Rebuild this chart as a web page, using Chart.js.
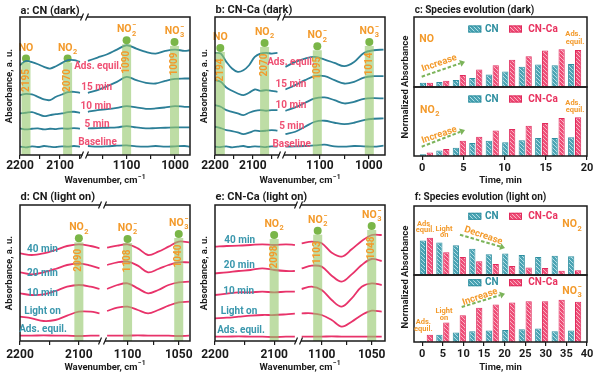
<!DOCTYPE html>
<html>
<head>
<meta charset="utf-8">
<title>Species evolution, in situ DRIFTS</title>
<script src="https://cdn.jsdelivr.net/npm/chart.js@4.4.1/dist/chart.umd.min.js"></script>
<style>
  html, body { margin: 0; padding: 0; background: #fff; }
  #fig { position: relative; width: 600px; height: 377px; overflow: hidden; background: #fff; }
  #fig canvas { position: absolute; }
  .ylab { position: absolute; width: 140px; text-align: center; font: bold 9.5px Roboto, sans-serif;
          color: #1a1a1a; transform: rotate(-90deg); white-space: nowrap; line-height: 12px; }
</style>
</head>
<body>
<div id="fig">
  <canvas id="pa" width="195" height="190" style="left:0;top:0"></canvas>
  <canvas id="pb" width="200" height="190" style="left:195px;top:0"></canvas>
  <canvas id="pc1" width="205" height="88" style="left:395px;top:0"></canvas>
  <canvas id="pc2" width="205" height="104" style="left:395px;top:86px"></canvas>
  <canvas id="pd" width="195" height="192" style="left:0;top:185px"></canvas>
  <canvas id="pe" width="200" height="192" style="left:195px;top:185px"></canvas>
  <canvas id="pf1" width="205" height="91" style="left:395px;top:185px"></canvas>
  <canvas id="pf2" width="205" height="103" style="left:395px;top:274px"></canvas>
  <div class="ylab" style="left:335px;top:81px">Normalized Absorbance</div>
  <div class="ylab" style="left:335px;top:271px">Normalized Absorbance</div>
</div>
<script>
// ---------- data ----------
// a: CN (dark)
const aWnL = [2200, 2185, 2170, 2155, 2140, 2125, 2110, 2095, 2080, 2065, 2050];
const aWnR = [1180, 1160, 1140, 1120, 1100, 1080, 1060, 1040, 1020, 1000, 980, 970];
const aNames = ['Baseline', '5 min', '10 min', '15 min', 'Ads. equil.'];
const aLeft = [
  [2.5, 2.3, 2.6, 2.4, 2.7, 2.5, 2.4, 2.6, 2.5, 2.7, 2.5],
  [8.0, 7.7, 7.9, 8.0, 7.7, 7.9, 7.8, 8.0, 7.9, 8.1, 7.9],
  [12.5, 12.7, 12.9, 12.3, 11.7, 12.0, 12.3, 12.5, 12.9, 13.0, 12.7],
  [18.0, 18.4, 18.2, 17.5, 16.7, 16.5, 17.5, 18.2, 18.9, 19.0, 18.7],
  [27.0, 28.3, 27.9, 27.3, 26.5, 26.0, 26.7, 27.7, 28.5, 28.5, 28.0]
];
const aRight = [
  [2.7, 2.5, 2.6, 2.8, 2.9, 2.6, 2.5, 2.7, 2.5, 2.6, 2.7, 2.5],
  [8.0, 8.1, 8.2, 8.3, 8.7, 8.3, 8.0, 8.1, 8.2, 8.3, 8.3, 8.3],
  [13.0, 13.5, 13.8, 14.2, 14.7, 14.3, 13.9, 14.0, 14.3, 14.7, 14.5, 14.5],
  [18.7, 19.5, 20.7, 22.0, 23.5, 22.5, 21.7, 21.5, 22.3, 22.9, 23.0, 23.0],
  [28.3, 29.3, 30.3, 31.7, 33.0, 32.0, 31.0, 30.5, 31.3, 31.7, 31.3, 31.5]
];
const aPeakPos = [2185, 2081, 1100, 1001];
const aPeakY = [29, 29, 34.5, 34];
const aPeakLab = ['2195', '2070', '1090', '1009'];
const aPeakName = ['NO', 'NO2', 'NO2-', 'NO3-'];

// b: CN-Ca (dark)
const bWnL = [2200, 2185, 2170, 2155, 2140, 2125, 2110, 2095, 2080, 2065, 2050, 2035];
const bWnR = [1170, 1150, 1130, 1110, 1090, 1070, 1050, 1030, 1010, 990, 970];
const bNames = ['Baseline', '5 min', '10 min', '15 min', 'Ads. equil.'];
const bLeft = [
  [2.5, 2.4, 2.6, 2.3, 2.5, 2.7, 2.4, 2.6, 2.5, 2.4, 2.6, 2.5],
  [8.5, 8.1, 7.5, 7.2, 6.8, 6.3, 6.7, 7.3, 7.2, 7.3, 7.5, 7.3],
  [15.0, 14.5, 13.5, 13.0, 12.5, 12.0, 12.7, 13.3, 13.5, 13.3, 13.5, 13.5],
  [22.5, 22.0, 20.3, 19.3, 18.5, 18.0, 18.7, 19.7, 19.3, 19.5, 19.3, 19.0],
  [30.7, 30.5, 28.0, 26.0, 25.0, 25.5, 27.0, 29.5, 30.5, 30.7, 30.5, 30.7]
];
const bRight = [
  [2.5, 2.6, 2.7, 2.9, 3.1, 2.6, 2.5, 2.7, 2.6, 2.5, 2.8],
  [6.3, 7.0, 8.5, 10.0, 10.3, 9.7, 9.3, 9.7, 10.5, 10.9, 11.0],
  [13.3, 14.3, 15.7, 17.0, 17.3, 16.5, 15.5, 16.0, 16.9, 17.1, 17.0],
  [19.7, 21.0, 22.5, 23.7, 23.7, 22.5, 21.5, 22.0, 23.3, 23.7, 23.7],
  [26.5, 28.0, 29.0, 29.5, 28.7, 27.7, 26.7, 28.0, 30.7, 31.5, 31.7]
];
const bPeakPos = [2186, 2069, 1105, 999];
const bPeakY = [32.2, 33.7, 32.7, 34];
const bPeakLab = ['2194', '2070', '1095', '1014'];
const bPeakName = ['NO', 'NO2', 'NO2-', 'NO3-'];

// d: CN (light on)
const dWnL = [2200, 2180, 2160, 2140, 2120, 2100, 2080, 2065];
const dWnR = [1120, 1110, 1100, 1090, 1080, 1070, 1060, 1050, 1040];
const dNames = ['Ads. equil.', 'Light on', '10 min', '20 min', '40 min'];
const dLeft = [
  [1.6, 1.6, 1.7, 1.6, 1.6, 1.5, 1.6, 1.6],
  [7.3, 6.8, 6.0, 6.3, 7.6, 8.8, 8.8, 8.3],
  [14.3, 13.8, 14.0, 15.0, 16.3, 16.8, 16.3, 15.6],
  [20.6, 20.0, 20.6, 21.6, 22.8, 23.3, 22.6, 21.8],
  [26.3, 25.8, 26.3, 27.3, 28.5, 29.0, 28.5, 27.8]
];
const dRight = [
  [1.6, 1.6, 1.6, 1.7, 1.6, 1.6, 1.6, 1.5, 1.6],
  [9.0, 10.0, 10.3, 9.3, 8.3, 9.3, 10.6, 11.6, 11.8],
  [15.6, 16.8, 17.3, 15.8, 14.3, 15.3, 16.8, 17.6, 17.8],
  [22.8, 23.6, 23.8, 22.6, 20.6, 21.6, 22.8, 23.6, 23.6],
  [28.0, 28.6, 29.0, 27.8, 25.8, 26.8, 28.3, 29.8, 29.6]
];
const dPeakPos = [2100, 1100, 1050];
const dPeakY = [30.8, 30.6, 32.1];
const dPeakLab = ['2090', '1108', '1040'];
const dPeakName = ['NO2', 'NO2-', 'NO3-'];

// e: CN-Ca (light on)
const eWnL = [2200, 2180, 2160, 2140, 2120, 2100, 2080, 2065];
const eWnR = [1120, 1110, 1100, 1090, 1080, 1070, 1060, 1050, 1040];
const eNames = ['Ads. equil.', 'Light on', '10 min', '20 min', '40 min'];
const eLeft = [
  [1.3, 1.3, 1.4, 1.3, 1.3, 1.2, 1.3, 1.3],
  [6.8, 7.0, 7.3, 7.6, 7.8, 7.8, 8.0, 8.2],
  [13.8, 14.2, 14.6, 14.6, 14.8, 14.6, 14.8, 14.8],
  [20.3, 20.6, 21.0, 21.3, 21.8, 21.3, 21.0, 21.0],
  [28.3, 28.5, 28.6, 28.8, 29.0, 28.8, 29.0, 28.8]
];
const eRight = [
  [1.3, 1.3, 1.3, 1.4, 1.3, 1.3, 1.3, 1.3, 1.3],
  [8.3, 8.3, 7.8, 6.3, 4.3, 5.8, 7.8, 9.1, 8.8],
  [15.6, 16.3, 15.3, 12.3, 10.3, 12.8, 16.3, 17.3, 16.8],
  [21.8, 22.6, 22.3, 19.6, 17.8, 20.0, 22.8, 24.6, 24.0],
  [29.3, 29.8, 29.3, 26.5, 25.3, 27.5, 30.0, 31.8, 31.8]
];
const ePeakPos = [2100, 1104, 1050];
const ePeakY = [31.8, 33.1, 34.5];
const ePeakLab = ['2098', '1103', '1048'];
const ePeakName = ['NO2', 'NO2-', 'NO3-'];

// c: species evolution (dark), normalized absorbance (%)
const cTime = [0.5, 2.5, 4.5, 6.5, 8.5, 10.5, 12.5, 14.5, 16.5, 18.5];
const cNO_CN = [6, 7, 10, 13, 18, 22, 29, 32, 31, 33];
const cNO_CNCa = [6, 9, 17, 25, 31, 39, 44, 52, 54, 53];
const cNO2_CN = [2.5, 8, 12, 19, 22, 20, 23, 26, 26, 27];
const cNO2_CNCa = [5, 10, 22, 28, 37, 39, 44, 48, 55, 56];

// f: species evolution (light on)
const fTime = [1, 5, 9, 13, 17, 21, 25, 29, 33, 37];
const fNO2_CN = [50, 47, 43, 38, 30, 31, 29, 26, 28, 27];
const fNO2_CNCa = [54, 33, 26, 20, 16, 13, 11, 10, 6, 7];
const fNO3_CN = [1.5, 11, 14, 16, 17, 18, 19, 20, 16, 17];
const fNO3_CNCa = [11, 29, 40, 51, 56, 59, 61, 61, 63, 60];

// ---------- styles ----------
const FONT = 'Roboto, "Liberation Sans", Arial, sans-serif';
Chart.defaults.font.family = FONT;
Chart.defaults.color = '#1a1a1a';
const INK = '#1a1a1a';
const TEAL = '#2c7f97', PINK = '#e8336a', ORANGE = '#f39a2b', GREEN = '#7ab648';
const LAB_PINK = '#ef5073', LAB_TEAL = '#3a97ad';
const CN_EDGE = '#2f8fa0', CA_EDGE = '#e02a5c';

function hatch(base, line) {
  const t = document.createElement('canvas');
  t.width = 4; t.height = 4;
  const g = t.getContext('2d');
  g.fillStyle = base; g.fillRect(0, 0, 4, 4);
  g.strokeStyle = line; g.lineWidth = 1;
  g.beginPath();
  g.moveTo(0, 0); g.lineTo(4, 4);
  g.moveTo(-1, 3); g.lineTo(1, 5);
  g.moveTo(3, -1); g.lineTo(5, 1);
  g.stroke();
  return g.createPattern(t, 'repeat');
}
const patCN = hatch('#4aa3b3', '#b2dfe6');
const patCA = hatch('#ee4d77', '#fab3c4');

// ---------- drawing helpers ----------
function rich(ctx, b, sub, sup, x, y, size, color, align) {
  ctx.save();
  ctx.fillStyle = color; ctx.textBaseline = 'middle'; ctx.textAlign = 'left';
  ctx.font = 'bold ' + size + 'px ' + FONT;
  const wb = ctx.measureText(b).width;
  const ss = Math.round(size * 7) / 10;
  ctx.font = 'bold ' + ss + 'px ' + FONT;
  const ws = Math.max(sub ? ctx.measureText(sub).width : 0, sup ? ctx.measureText(sup).width : 0);
  const w = wb + (ws ? ws + 0.5 : 0);
  const x0 = align === 'center' ? x - w / 2 : align === 'right' ? x - w : x;
  ctx.font = 'bold ' + size + 'px ' + FONT;
  ctx.fillText(b, x0, y);
  ctx.font = 'bold ' + ss + 'px ' + FONT;
  if (sub) ctx.fillText(sub, x0 + wb + 0.5, y + size * 0.38);
  if (sup) ctx.fillText(sup, x0 + wb + 0.5, y - size * 0.42);
  ctx.restore();
}
function chem(ctx, name, x, y, size, color, align) {
  const m = /^([A-Za-z]+)(\d*)(-?)$/.exec(name);
  rich(ctx, m[1], m[2], m[3] ? '\u2212' : '', x, y, size, color, align);
}
function drawText(ctx, t) {
  ctx.save();
  ctx.translate(t.x, t.y);
  if (t.rot) ctx.rotate(t.rot * Math.PI / 180);
  if (t.chem) chem(ctx, t.t, 0, 0, t.s, t.c, t.al || 'center');
  else rich(ctx, t.t, '', '', 0, 0, t.s, t.c, t.al || 'center');
  ctx.restore();
}
function arrow(ctx, x1, y1, x2, y2) {
  const ang = Math.atan2(y2 - y1, x2 - x1);
  const hx = x2 - 5 * Math.cos(ang), hy = y2 - 5 * Math.sin(ang);
  ctx.save();
  ctx.strokeStyle = '#7cb45a'; ctx.fillStyle = '#7cb45a'; ctx.lineWidth = 2;
  ctx.setLineDash([3.5, 2]);
  ctx.beginPath(); ctx.moveTo(x1, y1); ctx.lineTo(hx, hy); ctx.stroke();
  ctx.setLineDash([]);
  ctx.beginPath();
  ctx.moveTo(x2, y2);
  ctx.lineTo(hx + 3.5 * Math.sin(ang), hy - 3.5 * Math.cos(ang));
  ctx.lineTo(hx - 3.5 * Math.sin(ang), hy + 3.5 * Math.cos(ang));
  ctx.closePath(); ctx.fill();
  ctx.restore();
}
function breakMark(ctx, x, y) {
  ctx.save();
  ctx.fillStyle = '#fff'; ctx.fillRect(x - 2.5, y - 1.5, 4.5, 3);
  ctx.strokeStyle = INK; ctx.lineWidth = 1.2;
  ctx.beginPath();
  ctx.moveTo(x - 4.5, y + 3.5); ctx.lineTo(x - 1.5, y - 3.5);
  ctx.moveTo(x + 0.5, y + 3.5); ctx.lineTo(x + 3.5, y - 3.5);
  ctx.stroke();
  ctx.restore();
}

// per-canvas decorations (kept outside chart options)
const DECO = {};

const deco = {
  id: 'deco',
  afterDatasetsDraw(chart) {
    const d = DECO[chart.canvas.id];
    if (!d || !d.peaks) return;
    const ctx = chart.ctx, a = chart.chartArea, ys = chart.scales.y, p = d.peaks;
    p.pos.forEach((wn, i) => {
      const xs = chart.scales[wn > 1500 ? 'xL' : 'xR'];
      const px = xs.getPixelForValue(wn), py = ys.getPixelForValue(p.y[i]);
      ctx.save();
      ctx.fillStyle = 'rgba(150,200,110,0.62)';
      ctx.fillRect(px - 4.5, py + 4, 9, a.bottom - py - 4);
      ctx.restore();
      drawText(ctx, {t: p.lab[i], x: px, y: py + 22, s: 10, c: ORANGE, rot: -90});
      chem(ctx, p.name[i], px, py - 10.5, 10.5, ORANGE, 'center');
    });
  },
  afterDraw(chart) {
    const d = DECO[chart.canvas.id];
    if (!d) return;
    const ctx = chart.ctx, a = chart.chartArea;
    ctx.save();
    ctx.strokeStyle = INK; ctx.lineWidth = 1.5;
    ctx.strokeRect(a.left, a.top, a.right - a.left, a.bottom - a.top);
    ctx.restore();
    if (d.brk) {
      const bx = chart.scales.xL.right;
      breakMark(ctx, bx, a.top);
      breakMark(ctx, bx, a.bottom);
    }
    if (d.xtitle) rich(ctx, 'Wavenumber, cm', '', '\u22121', (a.left + a.right) / 2, a.bottom + d.xtitle, 9.5, INK, 'center');
    (d.arrows || []).forEach(r => arrow(ctx, r[0], r[1], r[2], r[3]));
    (d.texts || []).forEach(t => drawText(ctx, t));
    if (d.legend) {
      d.legend.items.forEach(it => {
        ctx.save();
        ctx.fillStyle = it.pat; ctx.fillRect(it.x, d.legend.y - 3.5, 13, 7);
        ctx.strokeStyle = it.edge; ctx.lineWidth = 1; ctx.strokeRect(it.x + 0.5, d.legend.y - 3, 12, 6);
        ctx.restore();
        rich(ctx, it.label, '', '', it.tx, d.legend.y, 10, it.color, 'left');
      });
    }
  }
};
Chart.register(deco);

// ---------- spectra panels ----------
function curve(wn, ys, ax, color) {
  return {
    data: wn.map((w, i) => ({x: w, y: ys[i]})),
    xAxisID: ax, yAxisID: 'y',
    borderColor: color, borderWidth: 1.8, pointRadius: 0, tension: 0.35, fill: false
  };
}

function spectra(id, s) {
  const datasets = [];
  s.left.forEach(ys => datasets.push(curve(s.wnL, ys, 'xL', s.color)));
  s.right.forEach(ys => datasets.push(curve(s.wnR, ys, 'xR', s.color)));
  ['xL', 'xR'].forEach(ax => {
    const pts = [];
    s.peakPos.forEach((p, i) => { if ((p > 1500) === (ax === 'xL')) pts.push({x: p, y: s.peakY[i]}); });
    datasets.push({data: pts, xAxisID: ax, yAxisID: 'y', showLine: false, pointRadius: 4,
      pointBackgroundColor: GREEN, pointBorderColor: GREEN, pointBorderWidth: 0});
  });
  const xAxis = (r, w, step, lab) => ({
    type: 'linear', position: 'bottom', stack: 'wn', stackWeight: w, reverse: true,
    min: r[0], max: r[1],
    ticks: {stepSize: step, includeBounds: false, autoSkip: false, maxRotation: 0, padding: s.tickPad,
      font: {size: 12, weight: 'bold'}, color: INK,
      callback: v => (v % lab === 0 ? String(v) : '')},
    grid: {drawOnChartArea: false, tickLength: 4, color: INK, lineWidth: 1.2},
    border: {display: false},
    afterFit: sc => { sc.height = s.xh; sc.paddingLeft = 0; sc.paddingRight = 0; }
  });
  DECO[id] = {
    brk: true,
    xtitle: s.xtitle,
    peaks: {pos: s.peakPos, y: s.peakY, lab: s.peakLab, name: s.peakName},
    texts: [{t: s.title, x: 20.5, y: s.titleY, s: 11, c: INK, al: 'left'}]
      .concat(s.names.map((n, i) => ({t: n, x: s.labXY[i][0], y: s.labXY[i][1], s: 10, c: s.labColor})))
  };
  new Chart(document.getElementById(id), {
    type: 'line',
    data: {datasets},
    options: {
      responsive: false, animation: false, events: [],
      layout: {padding: {left: 0, right: s.padRight, top: s.padTop, bottom: 0}},
      plugins: {legend: {display: false}, tooltip: {enabled: false}},
      scales: {
        xL: xAxis(s.rangeL, s.wL, s.stepL, s.labL),
        xR: xAxis(s.rangeR, s.wR, s.stepR, s.labR),
        y: {
          min: 0, max: s.ymax,
          ticks: {display: false}, grid: {display: false}, border: {display: false},
          title: {display: true, text: 'Absorbance, a. u.', font: {size: 9.5, weight: 'bold'}, color: INK, padding: 4},
          afterFit: sc => { sc.width = 20; }
        }
      }
    }
  });
}

spectra('pa', {
  wnL: aWnL, wnR: aWnR, left: aLeft, right: aRight, names: aNames,
  peakPos: aPeakPos, peakY: aPeakY, peakLab: aPeakLab, peakName: aPeakName,
  color: TEAL, labColor: LAB_PINK, title: 'a: CN (dark)', titleY: 11.5,
  labXY: [[97.5, 142.7], [97, 124], [96, 106.7], [96.7, 87.3], [98, 66.7]],
  rangeL: [2037.5, 2200], rangeR: [969, 1186], wL: 65, wR: 105,
  stepL: 50, labL: 100, stepR: 50, labR: 100,
  ymax: 41.5, padTop: 17, padRight: 5, xh: 35, tickPad: 0, xtitle: 26
});
spectra('pb', {
  wnL: bWnL, wnR: bWnR, left: bLeft, right: bRight, names: bNames,
  peakPos: bPeakPos, peakY: bPeakY, peakLab: bPeakLab, peakName: bPeakName,
  color: TEAL, labColor: LAB_PINK, title: 'b: CN-Ca (dark)', titleY: 10.7,
  labXY: [[96.7, 144], [96.7, 126.7], [96, 105], [96, 84.3], [96, 62.7]],
  rangeL: [2023, 2200], rangeR: [967, 1177], wL: 67, wR: 103,
  stepL: 50, labL: 100, stepR: 50, labR: 100,
  ymax: 41.5, padTop: 17, padRight: 10, xh: 35, tickPad: 0, xtitle: 26
});
spectra('pd', {
  wnL: dWnL, wnR: dWnR, left: dLeft, right: dRight, names: dNames,
  peakPos: dPeakPos, peakY: dPeakY, peakLab: dPeakLab, peakName: dPeakName,
  color: PINK, labColor: LAB_TEAL, title: 'd: CN (light on)', titleY: 12.7,
  labXY: [[43, 144], [42.5, 126.7], [42.5, 108.3], [42.5, 88.3], [42.5, 64]],
  rangeL: [2059, 2200], rangeR: [1039, 1124], wL: 83, wR: 87,
  stepL: 50, labL: 100, stepR: 25, labR: 50,
  ymax: 40.8, padTop: 20, padRight: 5, xh: 36, tickPad: 3, xtitle: 26.7
});
spectra('pe', {
  wnL: eWnL, wnR: eWnR, left: eLeft, right: eRight, names: eNames,
  peakPos: ePeakPos, peakY: ePeakY, peakLab: ePeakLab, peakName: ePeakName,
  color: PINK, labColor: LAB_TEAL, title: 'e: CN-Ca (light on)', titleY: 12.7,
  labXY: [[46, 145.7], [44, 126.7], [43.7, 106], [44.3, 80], [44.7, 55]],
  rangeL: [2058, 2200], rangeR: [1036.7, 1122.7], wL: 84, wR: 86,
  stepL: 50, labL: 100, stepR: 25, labR: 50,
  ymax: 40.8, padTop: 20, padRight: 10, xh: 36, tickPad: 3, xtitle: 26.7
});

// ---------- bar panels ----------
function legendAt(y) {
  return {y, items: [
    {x: 73.3, tx: 90, label: 'CN', pat: patCN, edge: CN_EDGE, color: CN_EDGE},
    {x: 114, tx: 133.3, label: 'CN-Ca', pat: patCA, edge: CA_EDGE, color: '#e8325f'}
  ]};
}
function orange(t, x, y, s, extra) {
  return Object.assign({t, x, y, s, c: ORANGE}, extra || {});
}

function bars(id, times, cn, ca, xr, showX, pad, xh) {
  new Chart(document.getElementById(id), {
    type: 'bar',
    data: {datasets: [
      {label: 'CN', data: times.map((t, i) => ({x: t, y: cn[i]})), backgroundColor: patCN,
        borderColor: CN_EDGE, borderWidth: 1, categoryPercentage: 0.84, barPercentage: 0.9},
      {label: 'CN-Ca', data: times.map((t, i) => ({x: t, y: ca[i]})), backgroundColor: patCA,
        borderColor: CA_EDGE, borderWidth: 1, categoryPercentage: 0.84, barPercentage: 0.9}
    ]},
    options: {
      responsive: false, animation: false, events: [],
      layout: {padding: pad},
      plugins: {legend: {display: false}, tooltip: {enabled: false}},
      scales: {
        x: {
          type: 'linear', display: showX, min: xr[0], max: xr[1], offset: false,
          ticks: {stepSize: 5, includeBounds: false, autoSkip: false, maxRotation: 0, padding: 2,
            font: {size: 11, weight: 'bold'}, color: INK},
          grid: {drawOnChartArea: false, offset: false, tickLength: 4, color: INK, lineWidth: 1.2},
          border: {display: false},
          title: {display: true, text: 'Time, min', font: {size: 9.5, weight: 'bold'}, color: INK,
            padding: {top: 0, bottom: 4}},
          afterFit: sc => { sc.height = xh; sc.paddingLeft = 0; sc.paddingRight = 0; }
        },
        y: {display: false, min: 0, max: 100}
      }
    }
  });
}

DECO.pc1 = {
  legend: legendAt(29),
  arrows: [[26.7, 76.7, 70, 61.7]],
  texts: [
    {t: 'c: Species evolution (dark)', x: 19.7, y: 10, s: 10, c: INK, al: 'left'},
    orange('NO', 24.3, 39, 10.5, {chem: true, al: 'left'}),
    orange('Ads.', 178, 34.3, 7.5), orange('equil.', 180, 41.7, 7.5),
    orange('Increase', 44.3, 63.3, 9.5, {rot: -19})
  ]
};
DECO.pc2 = {
  legend: legendAt(13),
  arrows: [[26.7, 60.7, 70, 44]],
  texts: [
    orange('NO2', 25, 24, 10.5, {chem: true, al: 'left'}),
    orange('Ads.', 178, 17.3, 7.5), orange('equil.', 180, 24, 7.5),
    orange('Increase', 44.3, 49, 9.5, {rot: -19})
  ]
};
DECO.pf1 = {
  legend: legendAt(31.3),
  arrows: [[65, 49.7, 110, 63]],
  texts: [
    {t: 'f: Species evolution (light on)', x: 19.7, y: 12.7, s: 10, c: INK, al: 'left'},
    orange('NO2', 186.7, 39.7, 10.5, {chem: true, al: 'right'}),
    orange('Ads.', 29.7, 38.7, 7.5), orange('equil.', 30, 44.7, 7.5),
    orange('Light', 49, 44, 7.5), orange('on', 49.3, 50.3, 7.5),
    orange('Decrease', 88.3, 50.7, 9.5, {rot: 19})
  ]
};
DECO.pf2 = {
  legend: legendAt(8.7),
  arrows: [[66.7, 33, 110, 19.7]],
  texts: [
    orange('NO3-', 186.7, 17.3, 10.5, {chem: true, al: 'right'}),
    orange('Increase', 85, 23, 9.5, {rot: -19}),
    orange('Light', 49, 37.3, 7.5), orange('on', 49, 44, 7.5),
    orange('Ads.', 28.3, 48, 7.5), orange('equil.', 28.3, 54.7, 7.5)
  ]
};

bars('pc1', cTime, cNO_CN, cNO_CNCa, [-1, 20], false, {left: 19, right: 13, top: 17, bottom: 1}, 0);
bars('pc2', cTime, cNO2_CN, cNO2_CNCa, [-1, 20], true, {left: 19, right: 13, top: 1, bottom: 0}, 34);
bars('pf1', fTime, fNO2_CN, fNO2_CNCa, [-2, 40], false, {left: 19, right: 13, top: 21, bottom: 1}, 0);
bars('pf2', fTime, fNO3_CN, fNO3_CNCa, [-2, 40], true, {left: 19, right: 13, top: 1, bottom: 0}, 35);
</script>
</body>
</html>
